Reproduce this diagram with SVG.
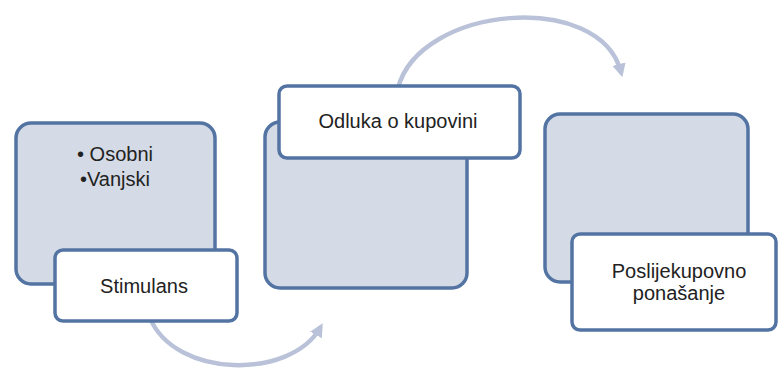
<svg xmlns="http://www.w3.org/2000/svg" width="779" height="372" viewBox="0 0 779 372">
<defs>
<style>
.bg{fill:#d5dbe6;stroke:#5374a3;stroke-width:3.5}
.lb{fill:#ffffff;stroke:#5374a3;stroke-width:3.5}
.t{font-family:"Liberation Sans",Arial,sans-serif;font-size:20px;fill:#222222;text-anchor:middle}
.arc{fill:none;stroke:#b9c2d8;stroke-width:4.5;stroke-linecap:round}
</style>
<marker id="ah" viewBox="0 0 10 10" refX="6" refY="5" markerWidth="3" markerHeight="3" orient="auto" markerUnits="strokeWidth">
<path d="M0,0 L10,5 L0,10 z" fill="#b9c2d8"/>
</marker>
</defs>
<rect width="779" height="372" fill="#ffffff"/>
<g id="connectors">
<path class="arc" d="M150,318 C175,378 290,380 320,328" marker-end="url(#ah)"/>
<path class="arc" d="M398,88 C420,5 600,-10 621,72" marker-end="url(#ah)"/>
</g>
<g id="node1">
<rect class="bg" x="16" y="123" width="199" height="161" rx="15"/>
<text class="t" x="115" y="161">• Osobni</text>
<text class="t" x="115" y="186">•Vanjski</text>
</g>
<g id="node1-label">
<rect class="lb" x="55" y="250" width="182" height="71" rx="8"/>
<text class="t" x="144" y="293">Stimulans</text>
</g>
<g id="node2">
<rect class="bg" x="265" y="122" width="202" height="166" rx="15"/>
</g>
<g id="node2-label">
<rect class="lb" x="279" y="86" width="241" height="72" rx="8"/>
<text class="t" x="398" y="128">Odluka o kupovini</text>
</g>
<g id="node3">
<rect class="bg" x="545" y="114" width="203" height="168" rx="15"/>
</g>
<g id="node3-label">
<rect class="lb" x="572" y="234" width="204" height="96" rx="8"/>
<text class="t" x="679" y="278">Poslijekupovno</text>
<text class="t" x="679" y="300">ponašanje</text>
</g>
</svg>
